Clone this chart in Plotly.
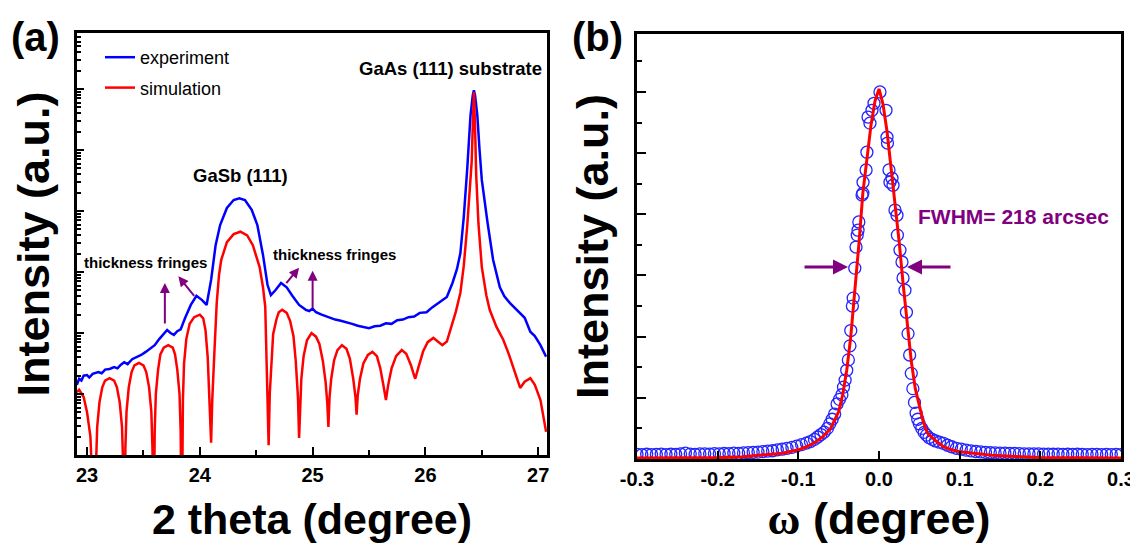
import numpy as np
import plotly.graph_objects as go

# ---------------- (a) 2theta scan (log10 of intensity, a.u.) ----------------
exp_2theta = [22.91, 22.93, 22.95, 22.97, 23.00, 23.02, 23.05, 23.08, 23.10, 23.13, 23.16, 23.20,
              23.24, 23.27, 23.30, 23.33, 23.36, 23.40, 23.44, 23.48, 23.52, 23.56, 23.60, 23.64,
              23.68, 23.71, 23.74, 23.77, 23.80, 23.83, 23.87, 23.92, 23.97, 24.02, 24.06, 24.10,
              24.14, 24.18, 24.24, 24.30, 24.35, 24.40, 24.46, 24.51, 24.56, 24.60, 24.63, 24.67,
              24.72, 24.77, 24.82, 24.88, 24.94, 24.97, 25.00, 25.03, 25.08, 25.15, 25.20, 25.25,
              25.30, 25.35, 25.40, 25.45, 25.50, 25.55, 25.60, 25.65, 25.70, 25.75, 25.80, 25.85,
              25.90, 25.95, 26.01, 26.06, 26.12, 26.19, 26.24, 26.28, 26.31, 26.34, 26.37, 26.40,
              26.42, 26.43, 26.44, 26.46, 26.48, 26.50, 26.55, 26.60, 26.66, 26.70, 26.75, 26.80,
              26.84, 26.88, 26.93, 26.97, 27.02, 27.07]
exp_log10 = [1.15, 1.25, 1.22, 1.30, 1.31, 1.27, 1.33, 1.35, 1.36, 1.34, 1.40, 1.41,
             1.44, 1.42, 1.48, 1.52, 1.49, 1.57, 1.60, 1.64, 1.69, 1.74, 1.80, 1.90,
             1.99, 2.05, 2.00, 1.97, 2.03, 2.06, 2.25, 2.46, 2.61, 2.54, 2.46, 2.87,
             3.44, 3.77, 4.05, 4.18, 4.21, 4.18, 4.02, 3.77, 3.28, 2.79, 2.62, 2.70,
             2.82, 2.75, 2.61, 2.46, 2.38, 2.36, 2.40, 2.34, 2.30, 2.25, 2.22, 2.20,
             2.18, 2.15, 2.12, 2.10, 2.08, 2.11, 2.12, 2.16, 2.15, 2.21, 2.22, 2.26,
             2.27, 2.33, 2.34, 2.42, 2.50, 2.59, 2.82, 3.05, 3.31, 3.90, 4.67, 5.57,
             5.90, 5.98, 5.90, 5.57, 5.00, 4.51, 3.82, 3.20, 2.75, 2.60, 2.49, 2.40,
             2.33, 2.25, 2.02, 1.95, 1.80, 1.61]

sim_2theta = [22.91, 22.93, 22.97, 23.00, 23.03, 23.05, 23.07, 23.08, 23.09, 23.11, 23.135, 23.16,
              23.20, 23.24, 23.265, 23.29, 23.31, 23.32, 23.33, 23.34, 23.35, 23.37, 23.395, 23.42,
              23.46, 23.50, 23.525, 23.55, 23.57, 23.58, 23.59, 23.60, 23.61, 23.63, 23.65, 23.68,
              23.72, 23.76, 23.78, 23.80, 23.82, 23.83, 23.84, 23.85, 23.86, 23.88, 23.91, 23.95,
              24.00, 24.03, 24.05, 24.07, 24.085, 24.10, 24.11, 24.12, 24.13, 24.15, 24.17, 24.19,
              24.24, 24.30, 24.36, 24.42, 24.47, 24.53, 24.56, 24.58, 24.59, 24.60, 24.61, 24.62,
              24.635, 24.65, 24.68, 24.70, 24.73, 24.77, 24.80, 24.83, 24.85, 24.87, 24.88, 24.89,
              24.90, 24.92, 24.95, 24.99, 25.03, 25.06, 25.09, 25.115, 25.13, 25.14, 25.15, 25.165,
              25.19, 25.22, 25.26, 25.30, 25.33, 25.36, 25.38, 25.39, 25.40, 25.42, 25.45, 25.49,
              25.53, 25.57, 25.60, 25.63, 25.65, 25.67, 25.70, 25.74, 25.79, 25.83, 25.87, 25.90,
              25.91, 25.94, 25.98, 26.02, 26.07, 26.11, 26.15, 26.19, 26.22, 26.27, 26.31, 26.34,
              26.37, 26.39, 26.41, 26.42, 26.43, 26.44, 26.45, 26.47, 26.50, 26.54, 26.57, 26.63,
              26.69, 26.74, 26.78, 26.84, 26.88, 26.93, 26.97, 27.02, 27.07]
sim_log10 = [1.03, 1.07, 0.95, 0.70, 0.30, -0.30, -1.5, -0.14, 0.46, 0.86, 1.11, 1.22,
             1.26, 1.22, 1.11, 0.86, 0.46, -0.14, -1.5, 0.11, 0.71, 1.11, 1.36, 1.47,
             1.51, 1.47, 1.36, 1.11, 0.71, 0.11, -1.5, 0.40, 1.00, 1.40, 1.65, 1.76,
             1.80, 1.76, 1.65, 1.40, 1.00, 0.40, -1.5, 0.90, 1.50, 1.90, 2.15, 2.26,
             2.30, 2.24, 2.05, 1.60, 1.00, 0.20, 0.90, 1.40, 1.72, 2.50, 2.95, 3.20,
             3.49, 3.62, 3.66, 3.60, 3.44, 3.08, 2.75, 2.43, 1.72, 1.10, 0.16, 1.00,
             1.60, 1.98, 2.23, 2.34, 2.38, 2.33, 2.20, 1.95, 1.55, 0.95, 0.28, 0.90,
             1.25, 1.62, 1.88, 2.00, 1.94, 1.82, 1.55, 1.20, 0.85, 0.46, 0.95, 1.25,
             1.55, 1.72, 1.80, 1.74, 1.58, 1.25, 0.95, 0.66, 0.98, 1.25, 1.50, 1.64,
             1.69, 1.62, 1.42, 1.12, 0.90, 1.15, 1.42, 1.62, 1.72, 1.66, 1.48, 1.30,
             1.25, 1.45, 1.70, 1.85, 1.92, 1.86, 1.80, 1.86, 2.05, 2.35, 2.66, 3.10,
             3.74, 4.20, 4.80, 5.40, 5.95, 5.40, 4.60, 3.80, 3.08, 2.62, 2.38, 2.10,
             1.89, 1.65, 1.44, 1.10, 1.20, 1.26, 1.15, 0.90, 0.38]

# ---------------- (b) rocking curve (counts) ----------------
rc_omega = [-0.300, -0.294, -0.288, -0.282, -0.276, -0.270, -0.264, -0.258, -0.252, -0.246, -0.240, -0.234,
            -0.228, -0.222, -0.216, -0.210, -0.204, -0.198, -0.192, -0.186, -0.180, -0.174, -0.168, -0.162,
            -0.156, -0.150, -0.144, -0.138, -0.132, -0.126, -0.120, -0.114, -0.108, -0.102, -0.096, -0.090,
            -0.085, -0.080, -0.076, -0.072, -0.068, -0.064, -0.061, -0.058, -0.055, -0.052, -0.049, -0.046,
            -0.044, -0.042, -0.040, -0.038, -0.036, -0.035, -0.033, -0.032, -0.030, -0.0285, -0.027, -0.026,
            -0.025, -0.021, -0.020, -0.0198, -0.016, -0.015, -0.0136, -0.0112, -0.0087, -0.0062, 0.0012,
            0.0087, 0.0099, 0.0105, 0.0124, 0.0136, 0.0161, 0.0174, 0.0198, 0.0223, 0.0228, 0.026, 0.0285,
            0.0298, 0.0322, 0.034, 0.036, 0.038, 0.040, 0.042, 0.044, 0.046, 0.048, 0.050, 0.053, 0.056,
            0.059, 0.062, 0.066, 0.070, 0.075, 0.080, 0.085, 0.090, 0.096, 0.102, 0.108, 0.114, 0.120,
            0.126, 0.132, 0.138, 0.144, 0.150, 0.156, 0.162, 0.168, 0.174, 0.180, 0.186, 0.192, 0.198,
            0.204, 0.210, 0.216, 0.222, 0.228, 0.234, 0.240, 0.246, 0.252, 0.258, 0.264, 0.270, 0.276,
            0.282, 0.288, 0.294, 0.300]
rc_counts = [150, 140, 155, 145, 150, 160, 145, 155, 150, 165, 190, 160,
             150, 165, 170, 160, 175, 170, 180, 175, 190, 185, 200, 210,
             215, 225, 240, 260, 270, 300, 320, 350, 380, 420, 470, 520,
             570, 640, 720, 800, 880, 1000, 1150, 1300, 1470, 1800, 1950, 2100,
             2350, 2580, 2900, 3240, 3700, 4200, 5000, 5260, 6240, 6930, 7320, 7480,
             7750, 8630, 8690, 9050, 9450, 10030, 11180, 10980, 11400, 11630, 12000,
             11400, 10520, 10330, 9450, 9050, 9180, 8950, 8140, 7970, 7320, 6830, 6440,
             5920, 5520, 4800, 4100, 3400, 2800, 2300, 1850, 1500, 1300, 1150, 1000, 870,
             780, 700, 640, 590, 550, 510, 450, 400, 350, 320, 290, 265, 245,
             230, 215, 205, 200, 195, 190, 185, 180, 175, 170, 170, 165, 165,
             160, 160, 155, 160, 150, 155, 150, 155, 150, 145, 150, 150, 145, 150,
             145, 150, 145, 150]

fit_omega = [-0.300, -0.25, -0.20, -0.17, -0.14, -0.12, -0.10, -0.09, -0.08, -0.07, -0.06, -0.055,
             -0.05, -0.045, -0.04, -0.035, -0.03, -0.025, -0.02, -0.015, -0.01, -0.005, 0.0, 0.005,
             0.01, 0.015, 0.02, 0.025, 0.03, 0.035, 0.04, 0.045, 0.05, 0.055, 0.06, 0.07, 0.08,
             0.09, 0.10, 0.12, 0.14, 0.17, 0.20, 0.25, 0.30]
fit_counts = [30, 35, 45, 70, 130, 190, 300, 400, 530, 720, 1000, 1250,
              1550, 2100, 2900, 4000, 5400, 7000, 8700, 9900, 10900, 11700, 12100, 11600,
              10700, 9500, 8400, 7100, 5700, 4400, 3200, 2300, 1700, 1200, 850, 600, 400,
              300, 240, 170, 120, 80, 50, 38, 30]

a_xticks = [23, 24, 25, 26, 27]
b_xticks = [-0.3, -0.2, -0.1, 0.0, 0.1, 0.2, 0.3]
b_xticktext = ["-0.3", "-0.2", "-0.1", "0.0", "0.1", "0.2", "0.3"]

# ---------------- geometry helpers ----------------
# the page body adds an 8 px margin, so the figure is 8 px smaller and shifted
OFF = 8
W, H = 1138 - OFF, 547 - OFF
PLOT_L, PLOT_R, PLOT_T, PLOT_B = 77, 1121, 33, 459   # in screenshot pixels
L, T = PLOT_L - OFF, PLOT_T - OFF
R, B = W - (PLOT_R - OFF), H - (PLOT_B - OFF)


def fx(px):
    return (px - PLOT_L) / (PLOT_R - PLOT_L)


def fy(py):
    return (PLOT_B - py) / (PLOT_B - PLOT_T)


FONT = "Liberation Sans, Arial, sans-serif"
PURPLE = "#800080"

fig = go.Figure()
fig.add_trace(go.Scatter(x=exp_2theta, y=10 ** np.array(exp_log10), mode="lines",
                         line=dict(color="#0000FF", width=2.5), name="experiment",
                         legendgroup="g1", xaxis="x", yaxis="y"))
fig.add_trace(go.Scatter(x=sim_2theta, y=10 ** np.array(sim_log10), mode="lines",
                         line=dict(color="#FF0000", width=2.5), name="simulation",
                         legendgroup="g2", xaxis="x", yaxis="y"))
fig.add_trace(go.Scatter(x=rc_omega, y=rc_counts, mode="markers",
                         marker=dict(symbol="circle-open", size=12, color="#2424ff",
                                     line=dict(width=1.3, color="#2424ff")),
                         showlegend=False, xaxis="x2", yaxis="y2"))
fig.add_trace(go.Scatter(x=fit_omega, y=fit_counts, mode="lines",
                         line=dict(color="#FF0000", width=3),
                         showlegend=False, xaxis="x2", yaxis="y2"))

axis_common = dict(showline=True, linecolor="black", linewidth=2.5, mirror=True,
                   showgrid=False, zeroline=False, ticks="inside", tickcolor="black",
                   tickwidth=2)


def tfont(size):
    return dict(family=FONT, size=size, color="black", weight="bold")


tick_font = tfont(20)

fig.update_layout(
    width=W, height=H,
    margin=dict(l=L, r=R, t=T, b=B, autoexpand=False),
    paper_bgcolor="white", plot_bgcolor="white",
    font=dict(family=FONT, color="black"),
    xaxis=dict(**axis_common, domain=[0, fx(547)], range=[22.911, 27.078],
               tickvals=a_xticks, ticklen=8, tickfont=tick_font,
               minor=dict(ticks="inside", dtick=0.5, tick0=0, ticklen=5, tickwidth=2,
                          tickcolor="black"),
               title=dict(text="2 theta (degree)", font=tfont(43), standoff=20),
               anchor="y"),
    yaxis=dict(**axis_common, type="log", domain=[fy(455), 1], range=[0, 6.918],
               dtick=1, ticklen=7, showticklabels=False,
               minor=dict(ticks="inside", dtick="D1", ticklen=4, tickwidth=1.5,
                          tickcolor="black"),
               title=dict(text="Intensity (a.u.)", font=tfont(45), standoff=15),
               anchor="x"),
    xaxis2=dict(**axis_common, domain=[fx(637), 1], range=[-0.3, 0.3],
                tickvals=b_xticks, ticktext=b_xticktext, ticklen=8, tickfont=tick_font,
                title=dict(text="<span style='font-family:Liberation Serif'>ω</span> (degree)",
                           font=tfont(45), standoff=14),
                anchor="y2"),
    yaxis2=dict(**axis_common, domain=[0, fy(34)], range=[0, 13895],
                dtick=2000, ticklen=9, showticklabels=False,
                minor=dict(ticks="inside", dtick=1000, ticklen=5, tickwidth=2,
                           tickcolor="black"),
                title=dict(text="Intensity (a.u.)", font=tfont(45), standoff=12),
                anchor="x2"),
    legend=dict(x=fx(100), y=fy(39), xanchor="left", yanchor="top",
                bgcolor="rgba(0,0,0,0)", font=dict(family=FONT, size=18, color="black"),
                traceorder="grouped", tracegroupgap=4),
    showlegend=True,
)

annotations = [
    dict(text="(a)", x=fx(35), y=fy(37), xref="paper", yref="paper", showarrow=False,
         xanchor="center", yanchor="middle", font=tfont(40)),
    dict(text="(b)", x=fx(597), y=fy(37), xref="paper", yref="paper", showarrow=False,
         xanchor="center", yanchor="middle", font=tfont(40)),
    dict(text="GaAs (111) substrate", x=26.22, y=6.34, xref="x", yref="y", showarrow=False,
         xanchor="center", yanchor="middle", font=tfont(18.5)),
    dict(text="GaSb (111)", x=24.36, y=4.59, xref="x", yref="y", showarrow=False,
         xanchor="center", yanchor="middle", font=tfont(18.5)),
    dict(text="thickness fringes", x=23.52, y=3.16, xref="x", yref="y", showarrow=False,
         xanchor="center", yanchor="middle", font=tfont(15)),
    dict(text="thickness fringes", x=25.19, y=3.28, xref="x", yref="y", showarrow=False,
         xanchor="center", yanchor="middle", font=tfont(15)),
    dict(text="FWHM= 218 arcsec", x=0.167, y=7940, xref="x2", yref="y2", showarrow=False,
         xanchor="center", yanchor="middle",
         font=dict(family=FONT, size=21, color=PURPLE, weight="bold")),
]
arrow_style = dict(text="", showarrow=True, arrowcolor=PURPLE, arrowwidth=2,
                   arrowhead=2, arrowsize=1)
for (xx, yy, ax, ay) in [(23.69, 2.82, 0, 42), (23.81, 2.93, 17, 21),
                         (24.88, 3.07, -14, 17), (25.00, 3.02, 0, 39)]:
    annotations.append(dict(x=xx, y=yy, ax=ax, ay=ay, xref="x", yref="y", **arrow_style))
for (xx, ax) in [(-0.0384, -45), (0.0347, 45)]:
    annotations.append(dict(x=xx, y=6275, ax=ax, ay=0, xref="x2", yref="y2",
                            text="", showarrow=True, arrowcolor=PURPLE, arrowwidth=3,
                            arrowhead=2, arrowsize=1))
fig.update_layout(annotations=annotations)

fig.write_html("out.html")
